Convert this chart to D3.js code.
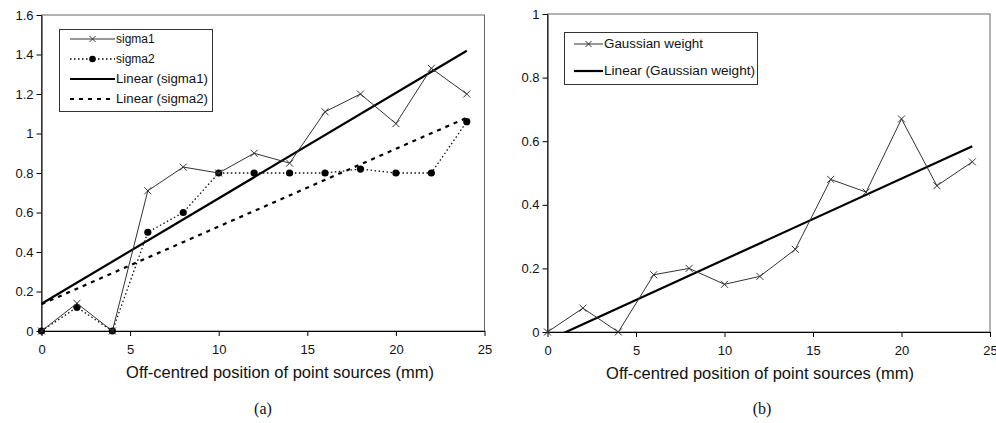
<!DOCTYPE html>
<html>
<head>
<meta charset="utf-8">
<script src="https://cdn.jsdelivr.net/npm/d3@7"></script>
<style>
  body { margin: 0; background: #fff; }
  svg text { font-family: "Liberation Sans", Arial, sans-serif; }
</style>
</head>
<body>
<svg id="chart" width="996" height="423"></svg>
<script>
// data
const positions = [0, 2, 4, 6, 8, 10, 12, 14, 16, 18, 20, 22, 24];
const sigma1 = [0, 0.14, 0, 0.71, 0.83, 0.8, 0.9, 0.85, 1.11, 1.2, 1.05, 1.33, 1.2];
const sigma2 = [0, 0.12, 0, 0.5, 0.6, 0.8, 0.8, 0.8, 0.8, 0.82, 0.8, 0.8, 1.06];
const gaussWeight = [0, 0.075, 0, 0.18, 0.2, 0.15, 0.175, 0.26, 0.48, 0.44, 0.67, 0.46, 0.535];

const xTicks = [0, 5, 10, 15, 20, 25];
const yTicksA = [0, 0.2, 0.4, 0.6, 0.8, 1, 1.2, 1.4, 1.6];
const yTicksB = [0, 0.2, 0.4, 0.6, 0.8, 1];

const xTitle = "Off-centred position of point sources (mm)";

const svg = d3.select("#chart");

// least squares line, like the excel "Linear" trendline
function linearFit(xs, ys) {
  const mx = d3.mean(xs), my = d3.mean(ys);
  let sxy = 0, sxx = 0;
  xs.forEach((x, i) => { sxy += (x - mx) * (ys[i] - my); sxx += (x - mx) * (x - mx); });
  const slope = sxy / sxx;
  return x => my + slope * (x - mx);
}

function crossPath(x, y, s) {
  return `M${x - s},${y - s}L${x + s},${y + s}M${x - s},${y + s}L${x + s},${y - s}`;
}

function drawPanel({ id, xRange, yRange, yMax, yTicks, titleX, caption, captionX }) {
  const x = d3.scaleLinear().domain([0, 25]).range(xRange);
  const y = d3.scaleLinear().domain([0, yMax]).range(yRange);
  const g = svg.append("g");

  // clip for trendlines
  svg.append("clipPath").attr("id", "clip-" + id)
    .append("rect")
    .attr("x", xRange[0]).attr("y", yRange[1])
    .attr("width", xRange[1] - xRange[0]).attr("height", yRange[0] - yRange[1]);

  // plot frame (grey top/right)
  g.append("rect")
    .attr("x", xRange[0]).attr("y", yRange[1])
    .attr("width", xRange[1] - xRange[0]).attr("height", yRange[0] - yRange[1])
    .attr("fill", "none").attr("stroke", "#666").attr("stroke-width", 1);

  const xAxis = g.append("g")
    .attr("transform", `translate(0,${yRange[0]})`)
    .call(d3.axisBottom(x).tickValues(xTicks).tickSize(5).tickSizeOuter(0).tickPadding(9));
  const yAxis = g.append("g")
    .attr("transform", `translate(${xRange[0]},0)`)
    .call(d3.axisLeft(y).tickValues(yTicks).tickFormat(d => String(d)).tickSize(5).tickSizeOuter(0).tickPadding(3));

  [xAxis, yAxis].forEach(a => {
    a.selectAll("text").attr("font-size", 13).attr("fill", "#111")
      .style("font-family", '"Liberation Sans", Arial, sans-serif');
    a.selectAll("line, path").attr("stroke", "#000");
    a.attr("font-family", null);
  });

  g.append("text")
    .attr("x", titleX).attr("y", yRange[0] + 47)
    .attr("text-anchor", "middle").attr("font-size", 16.5).attr("fill", "#111")
    .text(xTitle);

  g.append("text")
    .attr("x", captionX).attr("y", 414)
    .attr("text-anchor", "middle").attr("font-size", 16).attr("fill", "#111")
    .style("font-family", '"Liberation Serif", "Times New Roman", serif')
    .text(caption);

  return { x, y, g, clip: `url(#clip-${id})` };
}

function drawTrend(p, ys, dash) {
  const f = linearFit(positions, ys);
  p.g.append("path")
    .datum([0, 24])
    .attr("clip-path", p.clip)
    .attr("fill", "none").attr("stroke", "#000").attr("stroke-width", 2.2)
    .attr("stroke-dasharray", dash || null)
    .attr("d", d3.line().x(d => p.x(d)).y(d => p.y(f(d))));
}

function drawCrossSeries(p, ys) {
  p.g.append("path")
    .datum(ys)
    .attr("fill", "none").attr("stroke", "#333").attr("stroke-width", 1)
    .attr("d", d3.line().x((d, i) => p.x(positions[i])).y(d => p.y(d)));
  p.g.append("path")
    .attr("fill", "none").attr("stroke", "#333").attr("stroke-width", 1)
    .attr("d", ys.map((d, i) => crossPath(p.x(positions[i]), p.y(d), 3.5)).join(""));
}

function legendText(leg, x, y, label, width) {
  const t = leg.append("text").attr("x", x).attr("y", y).attr("font-size", 12).attr("fill", "#111")
    .text(label);
  if (width) t.attr("textLength", width).attr("lengthAdjust", "spacingAndGlyphs");
}

// ---- panel (a)
const pa = drawPanel({
  id: "a", xRange: [41.5, 484.5], yRange: [331, 15], yMax: 1.6, yTicks: yTicksA,
  titleX: 280, caption: "(a)", captionX: 263
});

drawTrend(pa, sigma2, "4,5");
drawTrend(pa, sigma1);

pa.g.append("path")
  .datum(sigma2)
  .attr("fill", "none").attr("stroke", "#111").attr("stroke-width", 1.3)
  .attr("stroke-dasharray", "1.5,2.5")
  .attr("d", d3.line().x((d, i) => pa.x(positions[i])).y(d => pa.y(d)));
pa.g.selectAll(".dot")
  .data(sigma2)
  .join("circle")
  .attr("cx", (d, i) => pa.x(positions[i]))
  .attr("cy", d => pa.y(d))
  .attr("r", 3.6).attr("fill", "#000");

drawCrossSeries(pa, sigma1);

// legend (a)
const legA = pa.g.append("g");
legA.append("rect").attr("x", 59.5).attr("y", 29.5).attr("width", 153).attr("height", 82)
  .attr("fill", "#fff").attr("stroke", "#333");
const legItemsA = [
  { label: "sigma1", kind: "cross" },
  { label: "sigma2", kind: "dot" },
  { label: "Linear (sigma1)", kind: "solid", w: 92 },
  { label: "Linear (sigma2)", kind: "dash", w: 92 }
];
legItemsA.forEach((it, i) => {
  const ly = 39 + i * 20;
  const line = legA.append("line").attr("x1", 70).attr("x2", 115).attr("y1", ly).attr("y2", ly)
    .attr("stroke", "#000");
  if (it.kind === "cross") {
    line.attr("stroke", "#333").attr("stroke-width", 1);
    legA.append("path").attr("d", crossPath(92.5, ly, 3)).attr("stroke", "#333").attr("fill", "none");
  } else if (it.kind === "dot") {
    line.attr("stroke-width", 1.3).attr("stroke-dasharray", "1.5,2.5");
    legA.append("circle").attr("cx", 92.5).attr("cy", ly).attr("r", 3.3).attr("fill", "#000");
  } else if (it.kind === "solid") {
    line.attr("stroke-width", 2.2);
  } else {
    line.attr("stroke-width", 2.2).attr("stroke-dasharray", "4,5");
  }
  legendText(legA, 116, ly + 4, it.label, it.w);
});

// ---- panel (b)
const pb = drawPanel({
  id: "b", xRange: [547.5, 990], yRange: [332, 14], yMax: 1, yTicks: yTicksB,
  titleX: 760, caption: "(b)", captionX: 762
});

drawTrend(pb, gaussWeight);
drawCrossSeries(pb, gaussWeight);

// legend (b)
const legB = pb.g.append("g");
legB.append("rect").attr("x", 564.5).attr("y", 32.5).attr("width", 193).attr("height", 52)
  .attr("fill", "#fff").attr("stroke", "#333");
[
  { label: "Gaussian weight", kind: "cross", w: 99 },
  { label: "Linear (Gaussian weight)", kind: "solid", w: 151 }
].forEach((it, i) => {
  const ly = 44 + i * 27;
  const line = legB.append("line").attr("x1", 574).attr("x2", 603).attr("y1", ly).attr("y2", ly)
    .attr("stroke", "#000");
  if (it.kind === "cross") {
    line.attr("stroke", "#333");
    legB.append("path").attr("d", crossPath(588.5, ly, 3)).attr("stroke", "#333").attr("fill", "none");
  } else {
    line.attr("stroke-width", 2.2);
  }
  legendText(legB, 604, ly + 4, it.label, it.w);
});
</script>
</body>
</html>
